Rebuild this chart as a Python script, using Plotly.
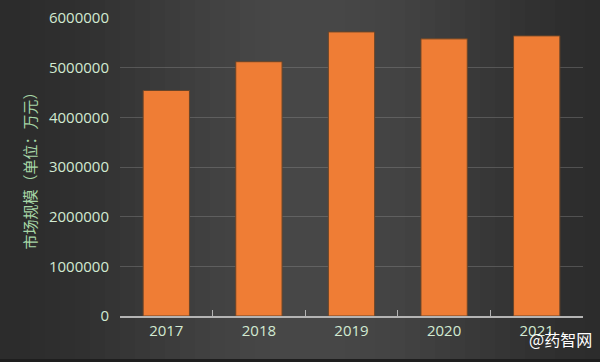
import math
import plotly.graph_objects as go

years = ["2017", "2018", "2019", "2020", "2021"]
market_size = [4540000, 5120000, 5720000, 5580000, 5640000]
y_ticks = [0, 1000000, 2000000, 3000000, 4000000, 5000000, 6000000]

fig = go.Figure()
fig.add_trace(go.Bar(
    x=years, y=market_size, width=0.5,
    marker=dict(color="#ef7d35", line=dict(color="#6a4528", width=1)),
))

PW, PH, L, B, T = 463, 298, 120, 46, 18
shapes = []
n = 40
def bg(t):
    c = 0.5 - 0.5 * math.cos(2 * math.pi * min(1, t * 0.95 + 0.02))
    v = int(44 + 28 * c)
    return "rgb(%d,%d,%d)" % (v, v, v)
for i in range(n):
    shapes.append(dict(type="rect", xref="paper", yref="paper",
                       x0=-L / PW + i * (600 / PW) / n, x1=-L / PW + (i + 1) * (600 / PW) / n + 0.002,
                       y0=-B / PH, y1=1 + T / PH, fillcolor=bg(i / n), line=dict(width=0), layer="below"))
shapes.append(dict(type="rect", xref="paper", yref="paper", x0=-L / PW, x1=480 / PW,
                   y0=-B / PH, y1=-(B - 3) / PH, fillcolor="#1e1e1e", line=dict(width=0), layer="above"))

fig.update_layout(
    width=600, height=362,
    margin=dict(l=L, r=17, t=T, b=B, autoexpand=False),
    paper_bgcolor="#414141", plot_bgcolor="rgba(0,0,0,0)",
    showlegend=False, shapes=shapes,
    font=dict(family="Open Sans, sans-serif", color="#d2ead2", size=14),
    xaxis=dict(type="category", tickson="boundaries", ticks="inside", ticklen=6,
               tickcolor="#b4b4b4", showline=True, linecolor="#b4b4b4", linewidth=2,
               showgrid=False, automargin=False, tickfont=dict(size=15, color="#d2ead2")),
    yaxis=dict(range=[0, 6000000], tickvals=y_ticks, ticktext=[str(v) for v in y_ticks],
               showgrid=True, gridcolor="rgba(150,150,150,0.35)", gridwidth=1,
               zeroline=False, ticks="", ticklabelstandoff=10, automargin=False,
               tickfont=dict(size=15, color="#d2ead2"),
               title=dict(text="市场规模（单位：万元）", standoff=8,
                          font=dict(family="Noto Sans CJK SC", size=15, color="#a6d6a6"))),
    annotations=[dict(text="@药智网", xref="paper", yref="paper", x=(594 - L) / PW, y=-(339 - 316) / PH,
                      xanchor="right", yanchor="middle", showarrow=False,
                      font=dict(family="Noto Sans CJK SC", size=16, color="#ffffff"))],
)
fig.write_html("out.html", config={"displayModeBar": False},
               post_script="document.body.style.margin='0px';")
